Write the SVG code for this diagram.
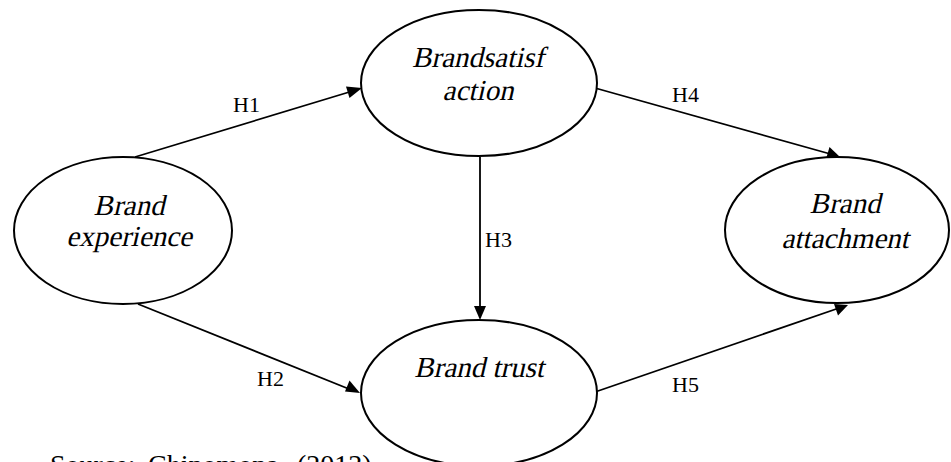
<svg xmlns="http://www.w3.org/2000/svg" width="951" height="462" viewBox="0 0 951 462">
<defs>
<style>
.node ellipse{fill:#fff;stroke:#000;stroke-width:2}
.lbl{font-family:'Liberation Serif','Times New Roman',serif;font-style:normal;font-size:29px;fill:#000;text-anchor:middle}
.h{font-family:'Liberation Serif','Times New Roman',serif;font-size:22px;fill:#000}
.edge{stroke:#000;stroke-width:1.8;fill:none}
.head{fill:#000}
.cap{font-family:'Liberation Serif','Times New Roman',serif;font-size:28px;fill:#000}
</style>
</defs>
<rect width="951" height="462" fill="#fff"/>
<g id="connectors">
<line class="edge" x1="135" y1="157" x2="356" y2="90"/>
<path class="head" d="M362,88 L346,86.5 L349.5,98 z"/>
<line class="edge" x1="138" y1="304" x2="354" y2="391"/>
<path class="head" d="M360,393 L349.5,380.5 L345,391.5 z"/>
<line class="edge" x1="480" y1="157" x2="480" y2="312"/>
<path class="head" d="M480,320 L474,306 L486,306 z"/>
<line class="edge" x1="595" y1="88" x2="834" y2="155"/>
<path class="head" d="M840,157 L826,159 L829.5,147 z"/>
<line class="edge" x1="595" y1="392" x2="842" y2="307"/>
<path class="head" d="M848,305 L838,315.5 L834,304 z"/>
<text class="h" x="233" y="112">H1</text>
<text class="h" x="257" y="386">H2</text>
<text class="h" x="485" y="247">H3</text>
<text class="h" x="672" y="102">H4</text>
<text class="h" x="672" y="392">H5</text>
</g>
<g id="brand-experience" class="node">
<ellipse cx="123" cy="230.5" rx="109" ry="73.5"/>
<text class="lbl" transform="translate(129,215) skewX(-13)">Brand</text>
<text class="lbl" transform="translate(129,246) skewX(-13)">experience</text>
</g>
<g id="brand-satisfaction" class="node">
<ellipse cx="479" cy="83" rx="118" ry="73"/>
<text class="lbl" transform="translate(478,67) skewX(-13)">Brandsatisf</text>
<text class="lbl" transform="translate(478,100) skewX(-13)">action</text>
</g>
<g id="brand-trust" class="node">
<ellipse cx="479" cy="393" rx="118" ry="73"/>
<text class="lbl" transform="translate(479,377) skewX(-13)">Brand trust</text>
</g>
<g id="brand-attachment" class="node">
<ellipse cx="837" cy="230" rx="112" ry="73"/>
<text class="lbl" transform="translate(845,213) skewX(-13)">Brand</text>
<text class="lbl" transform="translate(845,248) skewX(-13)">attachment</text>
</g>
<text class="cap" y="474"><tspan x="50">Source:</tspan><tspan x="148">Chinomona</tspan><tspan x="297">(2013)</tspan></text>
</svg>
